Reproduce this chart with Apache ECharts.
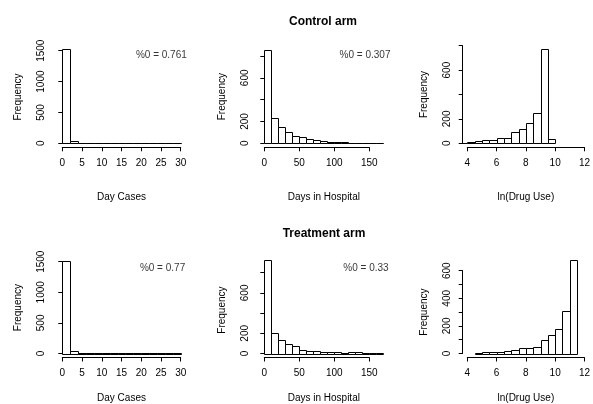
<!DOCTYPE html>
<html>
<head>
<meta charset="utf-8">
<script src="https://cdn.jsdelivr.net/npm/echarts@6/dist/echarts.min.js"></script>
<style>html,body{margin:0;padding:0;background:#fff}#c{width:593px;height:404px}</style>
</head>
<body>
<div id="c"></div>
<script>
// ---- data (bin start, bin width, counts) ----
const dayCasesBins = [0,2,4,6,8,10,12,14,16,18,20,22,24,26,28];
const dayCasesWidth = 2;
const controlDayCases   = [1525, 30, 8, 5, 3, 3, 1, 1, 0, 0, 0, 0, 0, 0, 0];
const treatmentDayCases = [1515, 35, 8, 5, 4, 3, 5, 2, 1, 1, 1, 1, 1, 1, 4];

const hospBins = [0,10,20,30,40,50,60,70,80,90,100,110,120,130,140,150,160];
const hospWidth = 10;
const controlHosp   = [858, 228, 146, 100, 67, 55, 35, 28, 18, 15, 10, 8, 6, 5, 4, 3, 2];
const treatmentHosp = [928, 207, 134, 95, 72, 33, 26, 26, 16, 13, 10, 7, 10, 10, 4, 4, 3];

const drugBinsControl = [3.5,4,4.5,5,5.5,6,6.5,7,7.5,8,8.5,9,9.5];
const controlDrug = [5, 11, 19, 25, 27, 47, 47, 96, 118, 167, 247, 770, 36];
const drugBinsTreatment = [4.5,5,5.5,6,6.5,7,7.5,8,8.5,9,9.5,10,10.5,11];
const treatmentDrug = [5, 9, 12, 14, 19, 24, 38, 43, 50, 99, 135, 178, 308, 680];
const drugWidth = 0.5;

const pctZeroControl = ['%0 = 0.761', '%0 = 0.307'];
const pctZeroTreatment = ['%0 = 0.77', '%0 = 0.33'];

// tick labels
const xTicksDayCases = [0,5,10,15,20,25,30];
const xTicksHosp = [0,50,100,150];
const xTicksDrug = [4,6,8,10,12];
const yLabelsDayCases = [0,500,1000,1500];
const yLabelsHosp = [0,200,600];
const yLabelsDrugC = [0,200,600];
const yLabelsDrugT = [0,200,400,600];

const FONT = 'Liberation Sans, Arial, Helvetica, sans-serif';
const FS = 10;

function crisp(v){ return Math.round(v) + 0.5; }
function renderBar(params, api){
  const x0 = api.value(0), x1 = api.value(1), y = api.value(2);
  const p0 = api.coord([x0, 0]);
  const p1 = api.coord([x1, y]);
  const L = crisp(p0[0]), R = crisp(p1[0]), B = crisp(p0[1]), T = crisp(p1[1]);
  return {type:'rect', shape:{x:L, y:T, width:R-L, height:B-T},
          style:{fill:'#fff', stroke:'#000', lineWidth:1}};
}
function binData(starts, w, counts){ return starts.map((s,i)=>[s, s+w, counts[i]]); }

const grids = [
  {left:62.3, top:50.7, width:118.4, height:92.6},
  {left:264.3, top:56, width:105, height:87.3},
  {left:467.3, top:45.7, width:118.7, height:97.6},
  {left:62.3, top:261.7, width:118.4, height:92},
  {left:264.3, top:272.7, width:105, height:81},
  {left:467.3, top:270.7, width:118.7, height:83}
];
const yOffsets = [6, 4.3, 4.6, 6, 4.3, 4.6];

function xAx(i, min, max, interval, name, gap, shift){
  return {gridIndex:i, type:'value', min, max, interval, offset:4,
    name, nameLocation:'middle', nameGap:gap,
    nameTextStyle:{fontFamily:FONT, fontSize:FS, color:'#000', padding:[0,0,0,shift||0]},
    axisLine:{show:true, onZero:false, lineStyle:{color:'#000', width:1}},
    axisTick:{show:true, length:4, lineStyle:{color:'#000'}},
    axisLabel:{fontFamily:FONT, fontSize:FS, color:'#000', margin:11, showMinLabel:true, showMaxLabel:true},
    splitLine:{show:false}};
}
function yAx(i, min, max, interval, shown, shiftUp){
  return {gridIndex:i, type:'value', min, max, interval, offset:yOffsets[i],
    name:'Frequency', nameLocation:'middle', nameGap:33, nameRotate:90,
    nameTextStyle:{fontFamily:FONT, fontSize:FS, color:'#000', padding:[0,0,0,shiftUp||0]},
    axisLine:{show:true, lineStyle:{color:'#000', width:1}},
    axisTick:{show:true, length:4, lineStyle:{color:'#000'}},
    axisLabel:{fontFamily:FONT, fontSize:FS, color:'#000', margin:10, rotate:90,
      showMinLabel:true, showMaxLabel:true,
      formatter: v => shown.indexOf(v) >= 0 ? String(v) : ''},
    splitLine:{show:false}};
}

const option = {
  animation:false,
  backgroundColor:'#fff',
  grid: grids,
  xAxis: [
    xAx(0, xTicksDayCases[0], xTicksDayCases[xTicksDayCases.length-1], 5, 'Day Cases', 45),
    xAx(1, xTicksHosp[0], xTicksHosp[xTicksHosp.length-1], 50, 'Days in Hospital', 45, 14),
    xAx(2, xTicksDrug[0], xTicksDrug[xTicksDrug.length-1], 2, 'ln(Drug Use)', 45),
    xAx(3, xTicksDayCases[0], xTicksDayCases[xTicksDayCases.length-1], 5, 'Day Cases', 35.5),
    xAx(4, xTicksHosp[0], xTicksHosp[xTicksHosp.length-1], 50, 'Days in Hospital', 35.5, 14),
    xAx(5, xTicksDrug[0], xTicksDrug[xTicksDrug.length-1], 2, 'ln(Drug Use)', 35.5)
  ],
  yAxis: [
    yAx(0, 0, 1500, 500, yLabelsDayCases),
    yAx(1, 0, 800, 200, yLabelsHosp, 6),
    yAx(2, 0, 800, 200, yLabelsDrugC),
    yAx(3, 0, 1500, 500, yLabelsDayCases),
    yAx(4, 0, 800, 200, yLabelsHosp, 6),
    yAx(5, 0, 600, 100, yLabelsDrugT)
  ],
  series: [
    {type:'custom', xAxisIndex:0, yAxisIndex:0, clip:false, renderItem:renderBar, encode:{x:[0,1], y:2}, data:binData(dayCasesBins, dayCasesWidth, controlDayCases)},
    {type:'custom', xAxisIndex:1, yAxisIndex:1, clip:false, renderItem:renderBar, encode:{x:[0,1], y:2}, data:binData(hospBins, hospWidth, controlHosp)},
    {type:'custom', xAxisIndex:2, yAxisIndex:2, clip:false, renderItem:renderBar, encode:{x:[0,1], y:2}, data:binData(drugBinsControl, drugWidth, controlDrug)},
    {type:'custom', xAxisIndex:3, yAxisIndex:3, clip:false, renderItem:renderBar, encode:{x:[0,1], y:2}, data:binData(dayCasesBins, dayCasesWidth, treatmentDayCases)},
    {type:'custom', xAxisIndex:4, yAxisIndex:4, clip:false, renderItem:renderBar, encode:{x:[0,1], y:2}, data:binData(hospBins, hospWidth, treatmentHosp)},
    {type:'custom', xAxisIndex:5, yAxisIndex:5, clip:false, renderItem:renderBar, encode:{x:[0,1], y:2}, data:binData(drugBinsTreatment, drugWidth, treatmentDrug)},
    // annotations
    ...[[0,25.1,1430,pctZeroControl[0]],[1,143.9,809,pctZeroControl[1]],[3,25.4,1392,pctZeroTreatment[0]],[4,145.3,843,pctZeroTreatment[1]]].map(a=>({
      type:'scatter', xAxisIndex:a[0], yAxisIndex:a[0], clip:false, symbolSize:0, silent:true,
      data:[[a[1], a[2]]],
      label:{show:true, position:'inside', formatter:a[3], fontFamily:FONT, fontSize:FS, color:'#000'}
    }))
  ],
  graphic: [
    {type:'text', x:323, y:21.7, style:{text:'Control arm', font:'bold 12px ' + FONT, fill:'#000', align:'center', verticalAlign:'middle'}},
    {type:'text', x:324, y:234, style:{text:'Treatment arm', font:'bold 12px ' + FONT, fill:'#000', align:'center', verticalAlign:'middle'}}
  ]
};
const chart = echarts.init(document.getElementById('c'), null, {renderer:'canvas'});
chart.setOption(option);
</script>
</body>
</html>
